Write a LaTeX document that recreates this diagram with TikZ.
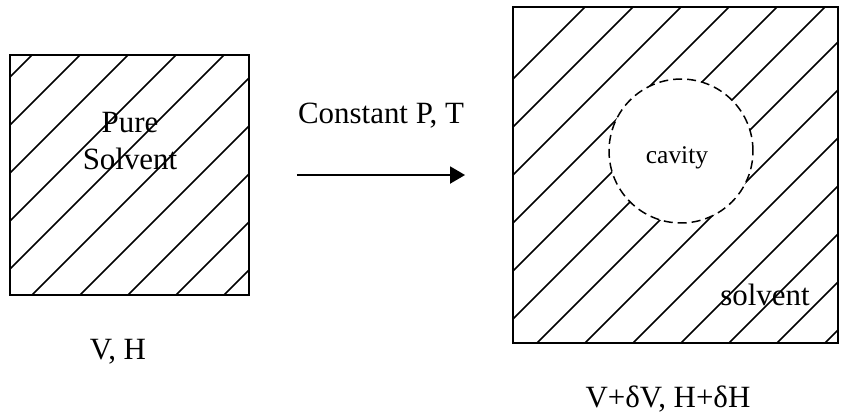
\documentclass[tikz,border=0pt]{standalone}
\usepackage{fontspec}
\setmainfont{Liberation Serif}
\usetikzlibrary{arrows.meta}
\tikzset{
  solventbox/.style={draw, line width=1.1pt, inner sep=0pt, outer sep=0pt},
  hatch/.style={line width=0.85pt},
  lab/.style={font=\fontsize{17.6}{21.1}\selectfont, anchor=base, inner sep=0pt},
}
\begin{document}
\begin{tikzpicture}[x=0.02cm, y=-0.02cm]
        \useasboundingbox (0,0) rectangle (841,414);
        % Boxes
        \node[solventbox, minimum width=4.78cm, minimum height=4.8cm] (pure) at (129.5,175) {};
        \node[solventbox, minimum width=6.5cm, minimum height=6.72cm] (mix) at (675.5,175) {};
        % Hatching, left box
        \begin{scope}
          \clip (pure.south west) rectangle (pure.north east);
          \foreach \c in {87,135,...,519} {
            \draw[hatch] (\c,0) -- ++(-400,400);
          }
        \end{scope}
        % Hatching, right box -- left out inside the cavity
        \begin{scope}[even odd rule]
          \clip (mix.south west) rectangle (mix.north east) (681,151) circle (72);
          \foreach \c in {592,640,...,1168} {
            \draw[hatch] (\c,0) -- ++(-400,400);
          }
        \end{scope}
        % Cavity
        \node[circle, draw, line width=0.85pt, dash pattern=on 0.18cm off 0.1cm,
              minimum size=2.88cm, inner sep=0pt] (cavity) at (681,151) {};
        \node[font=\fontsize{14.5}{17}\selectfont, anchor=base, inner sep=0pt] (cavitylab) at (677,163) {cavity};
        % Arrow
        \draw[-{Triangle[length=0.3cm, width=0.34cm]}, line width=1.1pt,
              shorten <=0.96cm, shorten >=0.96cm] (pure.east) -- (mix.west);
        % Labels
        \node[lab] (purelab) at (130,132) {Pure};
        \node[lab] (solvlab) at (130,169) {Solvent};
        \node[lab] (cond) at (381,123) {Constant P, T};
        \node[lab] (solv) at (765,305) {solvent};
        \node[lab] (vh) at (118,359) {V, H};
        \node[lab] (vdh) at (668,407) {V+δV, H+δH};
\end{tikzpicture}
\end{document}
